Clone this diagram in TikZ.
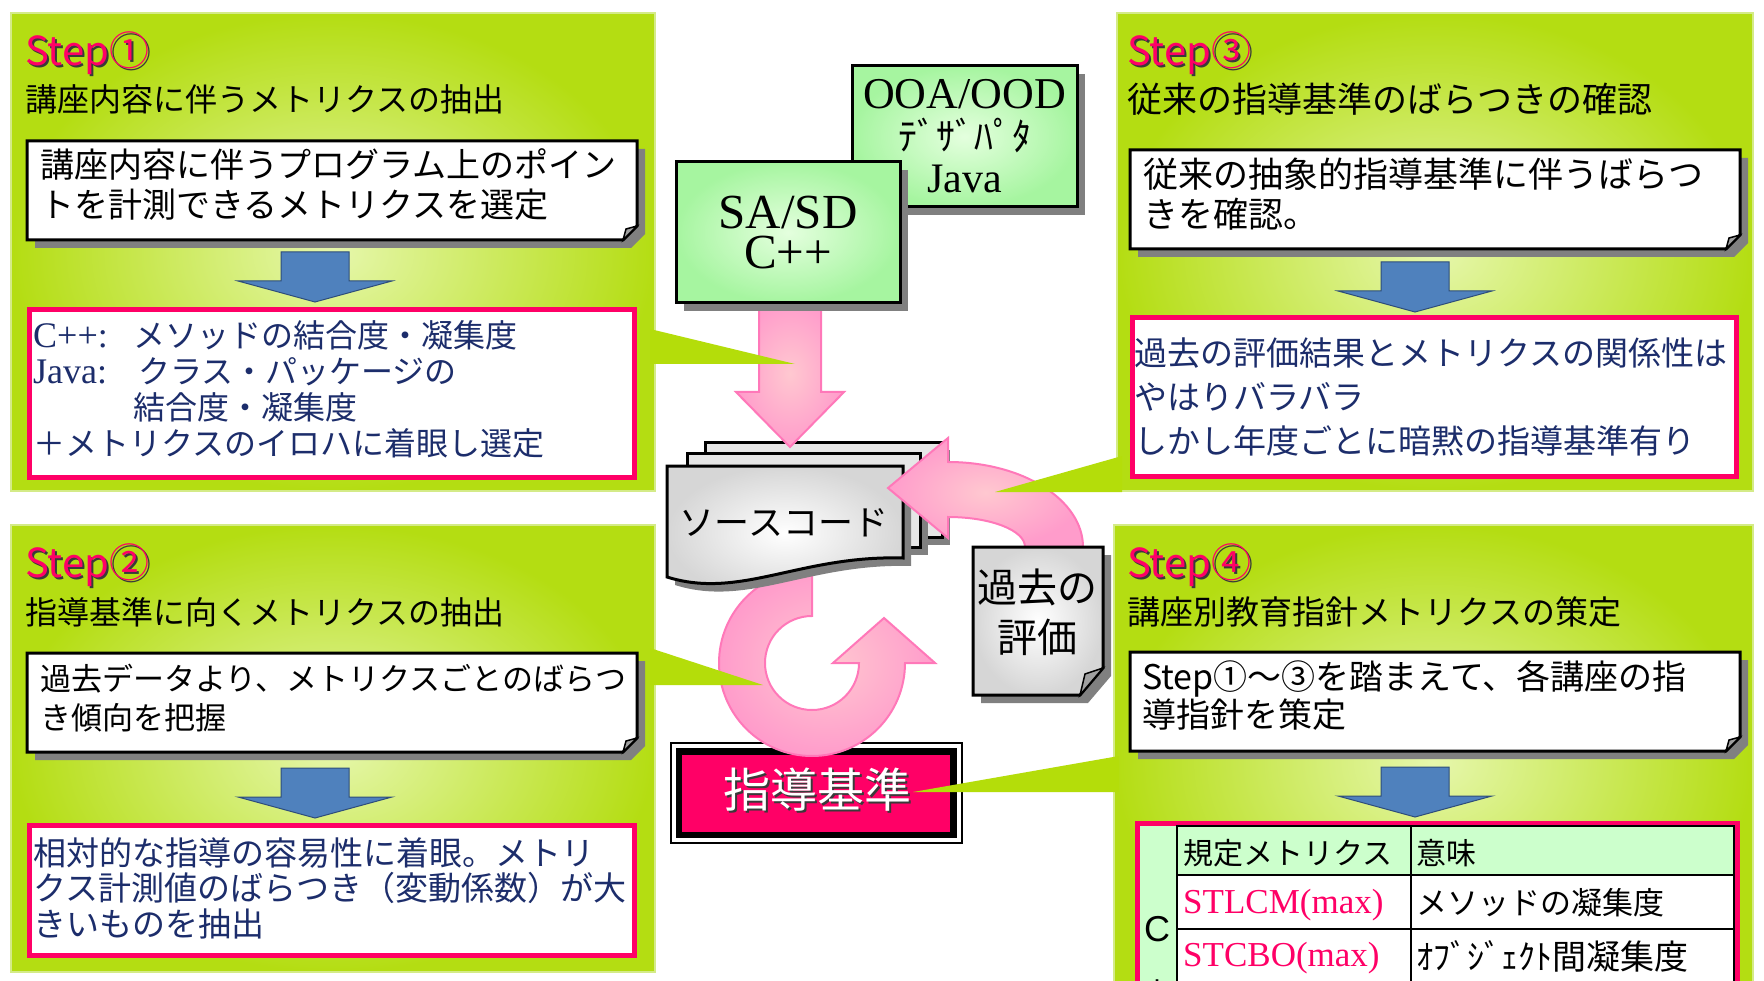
\documentclass[tikz,border=0pt]{standalone}
\usepackage{fontspec}
\newfontfamily\jp{Noto Sans CJK JP}
\newfontfamily\lat{Liberation Serif}
\newfontfamily\lsans{Liberation Sans}
\definecolor{panelout}{HTML}{B4DD12}
\definecolor{panelin}{HTML}{E6F7AC}
\definecolor{panelrim}{HTML}{D4EB88}
\definecolor{stepred}{HTML}{FF0066}
\definecolor{stepshadow}{HTML}{3A3A3A}
\definecolor{navy}{HTML}{1C2D6B}
\definecolor{boxshadow}{HTML}{808080}
\definecolor{foldgray}{HTML}{A0A0A0}
\definecolor{bluefill}{HTML}{4F81BD}
\definecolor{blueline}{HTML}{2E4D7A}
\definecolor{greenout}{HTML}{A6F5A0}
\definecolor{greenin}{HTML}{E4FFDE}
\definecolor{pinkout}{HTML}{FF9CCB}
\definecolor{pinkin}{HTML}{FFC8D0}
\definecolor{pinkline}{HTML}{FF78B9}
\definecolor{sheetout}{HTML}{D6D6D6}
\definecolor{sheetflat}{HTML}{E6E6E6}
\definecolor{tablegreen}{HTML}{CCFFCC}
\definecolor{wedge}{HTML}{B4DD0A}
\tikzset{
  panel/.style={inner color=panelin, outer color=panelout, draw=panelrim, line width=2.5pt},
  steplbl/.style={anchor=west, inner sep=0pt, text=stepred, font=\jp\fontsize{40}{40}\selectfont},
  stepsh/.style={anchor=west, inner sep=0pt, text=stepshadow, font=\jp\fontsize{40}{40}\selectfont},
  ttl/.style={anchor=west, inner sep=0pt, text=black},
  notetxt/.style={anchor=west, inner sep=0pt, align=left, text=black},
  redtxt/.style={anchor=west, inner sep=0pt, align=left, text=navy},
  redbox/.style={draw=stepred, line width=5pt, fill=white},
  bluearrow/.style={fill=bluefill, draw=blueline, line width=1pt},
  pinkarrow/.style={inner color=pinkin, outer color=pinkout, draw=pinkline, line width=2pt},
  sheet/.style={inner color=white, outer color=sheetout, draw=black, line width=3pt},
  backsheet/.style={fill=sheetflat, draw=black, line width=3pt},
  shadowfill/.style={fill=boxshadow},
  wedgefill/.style={fill=wedge},
  gbox/.style={draw=black, line width=3pt, inner color=greenin, outer color=greenout, align=center, inner sep=0pt},
  cell/.style={anchor=west, inner sep=0pt},
  notebox/.pic={
    \fill[shadowfill] (8,8) -- (618,8) -- (618,93) -- (604,107) -- (8,107) -- cycle;
    \draw[fill=white, line width=3pt] (0,0) -- (610,0) -- (610,85) -- (596,99) -- (0,99) -- cycle;
    \draw[fill=foldgray, line width=1.5pt] (610,85) -- (596,99) -- (599,88) -- cycle;
  },
  bluedown/.pic={
    \draw[bluearrow] (-34,0) -- (34,0) -- (34,29) -- (77,29) -- (0,50) -- (-77,29) -- (-34,29) -- cycle;
  }
}
\begin{document}
\begin{tikzpicture}[x=1pt,y=-1pt]
\useasboundingbox (0,0) rectangle (1764,981);
\clip (0,0) rectangle (1764,981);
\fill[white] (0,0) rectangle (1764,981);

% ---------- panels ----------
\shadedraw[panel] (11,13) rectangle (655,491);
\shadedraw[panel] (1117,13) rectangle (1753,491);
\shadedraw[panel] (11,525) rectangle (655,972);
\shadedraw[panel] (1114,525) rectangle (1753,1000);

% ---------- Step 1 ----------
\node[stepsh] (s1sh) at (27,55) {Step①};
\node[steplbl] (s1) at (25,53) {Step①};
\node[ttl, font=\jp\fontsize{32}{32}\selectfont] (t1) at (25,99) {講座内容に伴うメトリクスの抽出};
\pic at (27,141) {notebox};
\node[notetxt, font=\jp\fontsize{34}{40}\selectfont] (n1) at (40,185) {講座内容に伴うプログラム上のポイン\\トを計測できるメトリクスを選定};
\pic at (315,252) {bluedown};
\draw[redbox] (29.5,309.5) rectangle (634.5,477.5);
\node[redtxt, font=\jp\fontsize{32}{36}\selectfont] (r1) at (33,389)
  {\makebox[100pt][l]{\lat\fontsize{36}{36}\selectfont C++:}メソッドの結合度・凝集度\\
   \makebox[105pt][l]{\lat\fontsize{36}{36}\selectfont Java:}クラス・パッケージの\\
   \hspace*{100pt}結合度・凝集度\\
   ＋メトリクスのイロハに着眼し選定};

% ---------- Step 3 ----------
\node[stepsh] (s3sh) at (1129,55) {Step③};
\node[steplbl] (s3) at (1127,53) {Step③};
\node[ttl, font=\jp\fontsize{35}{35}\selectfont] (t3) at (1127,99) {従来の指導基準のばらつきの確認};
\pic at (1130,150) {notebox};
\node[notetxt, font=\jp\fontsize{35}{40}\selectfont] (n3) at (1143,194) {従来の抽象的指導基準に伴うばらつ\\きを確認。};
\pic at (1415,262) {bluedown};
\draw[redbox] (1132.5,317.5) rectangle (1736.5,476.5);
\node[redtxt, font=\jp\fontsize{33}{44}\selectfont] (r3) at (1134,397)
  {過去の評価結果とメトリクスの関係性は\\やはりバラバラ\\しかし年度ごとに暗黙の指導基準有り};

% ---------- Step 2 ----------
\node[stepsh] (s2sh) at (27,567) {Step②};
\node[steplbl] (s2) at (25,565) {Step②};
\node[ttl, font=\jp\fontsize{32}{32}\selectfont] (t2) at (25,612) {指導基準に向くメトリクスの抽出};
\pic at (27,653) {notebox};
\node[notetxt, font=\jp\fontsize{31}{39}\selectfont] (n2) at (40,698) {過去データより、メトリクスごとのばらつ\\き傾向を把握};
\pic at (315,768) {bluedown};
\draw[redbox] (29.5,825.5) rectangle (634.5,955.5);
\node[redtxt, font=\jp\fontsize{33}{35.5}\selectfont] (r2) at (33,888)
  {相対的な指導の容易性に着眼。メトリ\\クス計測値のばらつき（変動係数）が大\\きいものを抽出};

% ---------- Step 4 ----------
\node[stepsh] (s4sh) at (1129,567) {Step④};
\node[steplbl] (s4) at (1127,565) {Step④};
\node[ttl, font=\jp\fontsize{33}{33}\selectfont] (t4) at (1127,612) {講座別教育指針メトリクスの策定};
\pic at (1130,652) {notebox};
\node[notetxt, font=\jp\fontsize{34}{38}\selectfont] (n4) at (1142,696) {Step①～③を踏まえて、各講座の指\\導指針を策定};
\pic at (1415,767) {bluedown};
% table
\draw[redbox] (1137,823) rectangle (1737,1000);
\fill[tablegreen] (1140,826) rectangle (1177,1000);
\fill[tablegreen] (1177,826) rectangle (1734,875);
\draw[line width=1.5pt] (1177,826) rectangle (1734,1000);
\draw[line width=1.5pt] (1411,826) -- (1411,1000);
\draw[line width=1.5pt] (1177,875) -- (1734,875);
\draw[line width=1.5pt] (1177,929) -- (1734,929);
\draw[line width=1.5pt] (1177,983) -- (1734,983);
\node[inner sep=0pt, font=\lsans\fontsize{36}{36}\selectfont] (tc) at (1157,929) {C};
\node[inner sep=0pt, font=\lsans\fontsize{36}{36}\selectfont] (tp) at (1157,990) {+};
\node[cell, font=\jp\fontsize{30}{30}\selectfont] (h1) at (1183,853) {規定メトリクス};
\node[cell, font=\jp\fontsize{30}{30}\selectfont] (h2) at (1416,853) {意味};
\node[cell, text=stepred, font=\lat\fontsize{35}{35}\selectfont] (c11) at (1183,905) {STLCM(max)};
\node[cell, font=\jp\fontsize{31}{31}\selectfont] (c12) at (1416,903) {メソッドの凝集度};
\node[cell, text=stepred, font=\lat\fontsize{35}{35}\selectfont] (c21) at (1183,958) {STCBO(max)};
\node[cell, font=\jp\fontsize{34}{34}\selectfont] (c22) at (1416,956) {ｵﾌﾞｼﾞｪｸﾄ間凝集度};

% ---------- centre ----------
% guideline box
\draw[line width=2pt] (671,743) rectangle (962,843);
\fill[black] (676,748) rectangle (957,838);
\fill[stepred] (682,755) rectangle (950,832);
\node[inner sep=0pt, text=stepshadow, font=\jp\fontsize{47}{47}\selectfont] (kjsh) at (819,792) {指導基準};
\node[inner sep=0pt, text=white, font=\jp\fontsize{47}{47}\selectfont] (kijun) at (817,790) {指導基準};

% circular arrow
\shadedraw[pinkarrow] (812,570) .. controls (760.6,570) and (719,611.6) .. (719,663)
  .. controls (719,714.4) and (760.6,756) .. (812,756)
  .. controls (863.4,756) and (905,714.4) .. (905,663)
  -- (935,663) -- (884,618) -- (833,663) -- (859,663)
  .. controls (859,689) and (838,710) .. (812,710)
  .. controls (786,710) and (765,689) .. (765,663)
  .. controls (765,637) and (786,616) .. (812,616) -- cycle;

% source code sheets
\fill[shadowfill] (713,450) rectangle (950,545);
\draw[backsheet] (705,442) rectangle (942,537);
\fill[shadowfill] (695,461) rectangle (928,555);
\draw[backsheet] (687,453) rectangle (920,547);
\fill[shadowfill] (675,474) -- (911,474) -- (911,566) .. controls (808,563) and (748,608) .. (675,585) -- cycle;
\shadedraw[sheet] (667,466) -- (903,466) -- (903,558) .. controls (800,555) and (740,600) .. (667,577) -- cycle;
\node[inner sep=0pt, font=\jp\fontsize{35}{35}\selectfont] (src) at (784,523) {ソースコード};

% down arrow
\shadedraw[pinkarrow] (759,300) -- (821,300) -- (821,392) -- (844,392) -- (790,447) -- (736,392) -- (759,392) -- cycle;

% method boxes
\fill[shadowfill] (860,74) rectangle (1085,215);
\node[gbox, minimum width=225pt, minimum height=141pt, font=\fontsize{40}{42}\selectfont] (ooa) at (964.5,136.5)
  {{\lat\fontsize{44}{42}\selectfont OOA/OOD}\\{\jp\fontsize{38}{42}\selectfont ﾃﾞｻﾞﾊﾟﾀ}\\{\lat\fontsize{42}{42}\selectfont Java}};
\fill[shadowfill] (684,170) rectangle (908,311);
\node[gbox, minimum width=224pt, minimum height=141pt, font=\fontsize{49}{40}\selectfont] (sasd) at (788,232.5)
  {{\lat\fontsize{49}{40}\selectfont SA/SD}\\{\lat\fontsize{49}{40}\selectfont C++}};

% curved arrow from evaluation to source
\shadedraw[pinkarrow] (1083,547) .. controls (1083,500) and (1023,462) .. (948,462)
  -- (948,438) -- (888,488) -- (948,538) -- (948,517)
  .. controls (990,517) and (1025,530) .. (1025,547) -- cycle;

% past evaluation note
\fill[shadowfill] (981,555) -- (1111,555) -- (1111,676) -- (1088,703) -- (981,703) -- cycle;
\shadedraw[sheet] (973,547) -- (1103,547) -- (1103,668) -- (1080,695) -- (973,695) -- cycle;
\draw[fill=foldgray, line width=1.5pt] (1103,668) -- (1080,695) -- (1085,674) -- cycle;
\node[inner sep=0pt, align=center, font=\jp\fontsize{40}{50}\selectfont] (kako) at (1037,612) {過去の\\評価};

% ---------- callout wedges ----------
\fill[wedgefill] (650,329) -- (795,364) -- (650,364) -- cycle;
\fill[wedgefill] (1122,456) -- (995,492) -- (1122,492) -- cycle;
\fill[wedgefill] (650,648) -- (763,685) -- (650,685) -- cycle;
\fill[wedgefill] (1119,756) -- (913,792) -- (1119,792) -- cycle;
\end{tikzpicture}
\end{document}
